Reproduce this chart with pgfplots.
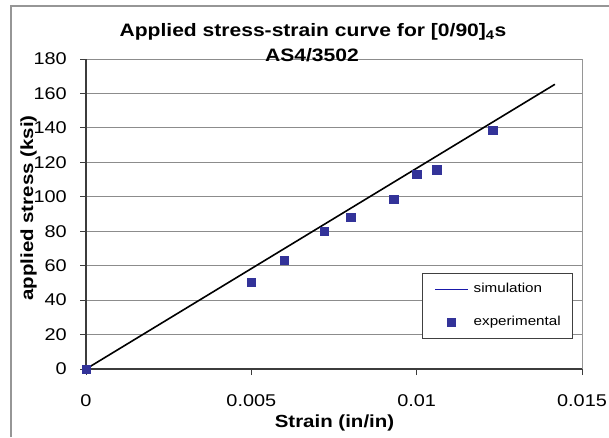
\documentclass[border=0pt]{standalone}
\usepackage{fontspec}
\setmainfont{Liberation Sans}[FakeStretch=1.17]
\usepackage{pgfplots}
\pgfplotsset{compat=1.18}
\definecolor{navy}{RGB}{51,51,153}
\definecolor{legline}{RGB}{25,25,170}
\definecolor{gridc}{RGB}{140,140,140}
\definecolor{framec}{RGB}{150,150,150}
\definecolor{axc}{RGB}{60,60,60}
\begin{document}
\begin{tikzpicture}
\path[use as bounding box] (0pt,0pt) rectangle (609pt,437pt);
\draw[framec, line width=1.5pt] (11pt,0pt) -- (11pt,431pt) -- (609pt,431pt);
\begin{axis}[
  at={(86pt,68pt)}, anchor=south west,
  scale only axis, width=496pt, height=310pt,
  xmin=0, xmax=0.015, ymin=0, ymax=180,
  axis lines*=left,
  axis line style={axc, line width=1.2pt},
  tick align=outside, major tick length=6pt,
  tick style={axc, line width=1pt},
  ytick={0,20,...,180},
  xtick={0,0.005,0.01,0.015},
  xticklabels={0,0.005,0.01,0.015},
  ymajorgrids,
  major grid style={gridc, line width=1pt},
  tick label style={font=\fontsize{17}{19}\selectfont},
  /pgf/number format/assume math mode=true,
  yticklabel style={inner sep=0pt, anchor=east, xshift=-13pt},
  xticklabel style={inner sep=0pt, anchor=base, yshift=-31pt},
  clip=false,
  legend image code/.code={\draw[mark repeat=2,mark phase=2,#1] plot coordinates {(0pt,0pt) (16.5pt,0pt) (33pt,0pt)};},
  legend cell align=left,
  legend style={at={(0.6774,0.3097)}, anchor=north west,
    draw=black!75, line width=0.8pt, fill=white,
    font=\fontsize{13}{15}\selectfont,
    inner xsep=12pt, inner ysep=10pt, row sep=21.5pt,
    nodes={inner sep=0pt, anchor=west, text height=9pt, text depth=2.5pt},
    /tikz/every odd column/.append style={column sep=5pt}},
]
\draw[framec, line width=1pt] (rel axis cs:1,0) -- (rel axis cs:1,1);
\addplot[black, line width=1.6pt, forget plot] coordinates {(0,0) (0.01418,165.3)};
\addlegendimage{legline, line width=1.3pt}
\addlegendentry{simulation}
\addplot[only marks, mark=square*, mark size=4.25pt, mark options={fill=navy, draw=navy}] coordinates {
 (0,0) (0.0050,50.3) (0.0060,63.3) (0.0072,80.1) (0.0080,88.1)
 (0.0093,98.5) (0.0100,113.0) (0.0106,115.6) (0.0123,138.8)};
\addlegendentry{experimental}
\end{axis}
\node[font=\bfseries\fontsize{18}{20}\selectfont] at (313pt,405pt) {Applied stress-strain curve for [0/90]\textsubscript{4}s};
\node[font=\bfseries\fontsize{18}{20}\selectfont] at (312pt,382pt) {AS4/3502};
\node[font=\bfseries\fontsize{17.5}{20}\selectfont, anchor=base] at (334.5pt,10pt) {Strain (in/in)};
\node[font=\bfseries\fontsize{17.5}{20}\selectfont, anchor=base, rotate=90] at (33pt,229pt) {applied stress (ksi)};
\end{tikzpicture}
\end{document}
